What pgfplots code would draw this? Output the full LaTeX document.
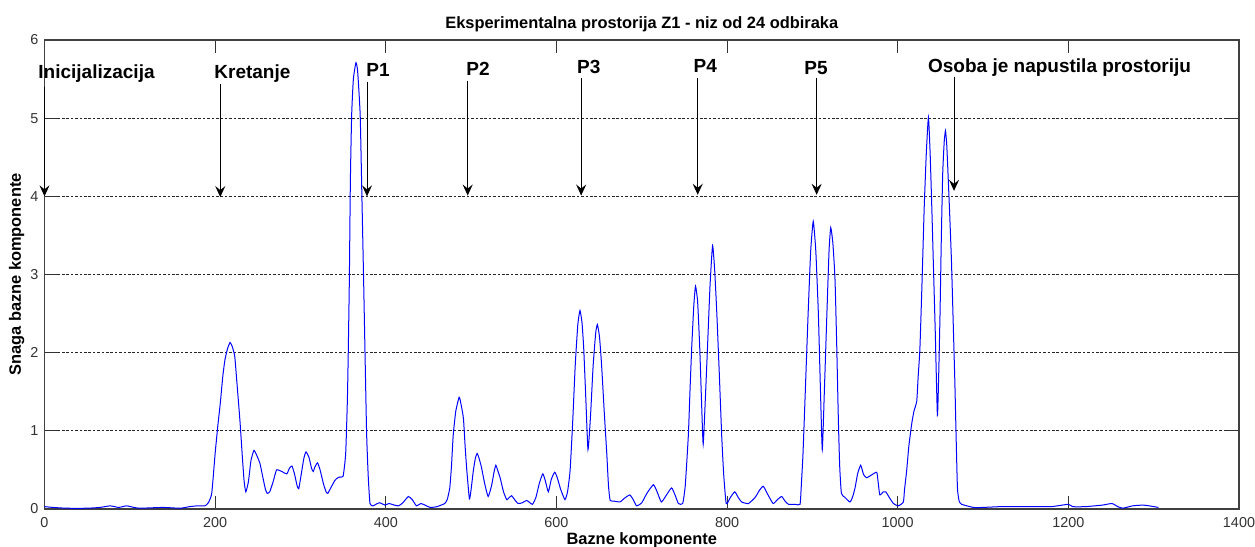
\documentclass[border=0pt]{standalone}
\usepackage{fontspec}
\setmainfont{Liberation Sans}
\usepackage{pgfplots}
\pgfplotsset{compat=1.18}
\usetikzlibrary{arrows.meta}

% event label: label x, label baseline y, text, arrow x, arrow top y, arrow tip y
\newcommand{\eventmark}[6]{%
  \node[anchor=base west, inner sep=0pt, font=\bfseries\fontsize{9.5}{11}\selectfont] at (axis cs:#1,#2) {#3};
  \draw[line width=0.5pt, -{Stealth[length=5.5pt,width=5pt,inset=2pt]}] (axis cs:#4,#5) -- (axis cs:#4,#6);
}

\begin{document}
\begin{tikzpicture}
\begin{axis}[
  at={(0,0)}, anchor=south west,
  scale only axis, width=597.25pt, height=234.5pt,
  xmin=0, xmax=1400, ymin=0, ymax=6,
  xtick={0,200,...,1400}, ytick={0,1,...,6},
  tick align=inside, major tick length=6.5pt,
  axis line style={black!75, line width=0.6pt},
  tick style={black!80, line width=0.5pt},
  ymajorgrids,
  grid style={black!85, line width=0.45pt, dash pattern=on 1.3pt off 0.9pt},
  tick label style={font=\fontsize{7.2}{8}\selectfont, text=black!80},
  /pgf/number format/assume math mode=true,
  /pgf/number format/1000 sep={},
  scaled ticks=false,
  xticklabel style={yshift=-0.5pt},
  yticklabel style={xshift=0.5pt},
  title={Eksperimentalna prostorija Z1 - niz od 24 odbiraka},
  title style={font=\bfseries\fontsize{8.2}{9}\selectfont, at={(rel axis cs:0.5,1)}, anchor=base, yshift=-0.3pt, inner sep=0pt},
  xlabel={Bazne komponente},
  xlabel style={font=\bfseries\fontsize{8.2}{9}\selectfont, at={(rel axis cs:0.5,0)}, anchor=base, yshift=-17.5pt, inner sep=0pt},
  ylabel={Snaga bazne komponente},
  ylabel style={font=\bfseries\fontsize{8.2}{9}\selectfont, at={(rel axis cs:0,0.5)}, anchor=base, yshift=11.75pt, inner sep=0pt},
  clip=false,
]
\addplot[blue, line width=0.5pt, smooth, tension=0.3] coordinates {
(0,0.03) (10,0.02) (26,0.01) (50,0.01) (65,0.02) (77,0.04) (87,0.02) (96,0.04)
(105,0.02) (112,0.01) (139,0.02) (159,0.01) (170,0.03) (178.5,0.04) (188,0.04)
(192,0.08) (196,0.20) (200,0.71) (203,1.05) (206,1.35) (209,1.70) (211.5,1.91)
(214.5,2.05) (217.5,2.13) (220,2.08) (223,1.95) (226,1.55) (229,1.14) (232,0.65)
(234,0.35) (236,0.22) (239,0.35) (242,0.62) (245.5,0.75) (249,0.68) (252.6,0.58)
(256,0.40) (259,0.25) (261,0.20) (264,0.22) (268,0.35) (272,0.50) (278,0.48)
(284,0.45) (287,0.52) (290,0.55) (293,0.45) (296,0.30) (298,0.26) (301,0.45)
(304,0.65) (306.5,0.73) (310,0.66) (313,0.52) (315,0.48) (317,0.54) (320,0.59)
(323,0.50) (327,0.32) (330,0.22) (332,0.20) (336,0.28) (340,0.36) (342.5,0.39)
(346,0.41) (350,0.42) (353,0.71) (355,1.40) (356,1.99) (357.3,2.94) (358.5,4.2)
(360,5.04) (362,5.50) (365,5.71) (367,5.60) (370,5.04) (372,4.0) (374,2.94)
(376,1.80) (377.6,0.94) (379.5,0.40) (381.5,0.07) (385,0.04) (390,0.07) (393,0.08)
(397,0.06) (399,0.05) (404,0.07) (410,0.05) (415,0.04) (420,0.08) (426.5,0.16)
(431,0.12) (436,0.04) (441,0.07) (446,0.05) (452,0.02) (460,0.03) (469,0.07)
(472,0.12) (475,0.27) (477,0.55) (479,0.94) (482,1.25) (486,1.43) (488,1.35)
(491,1.16) (493,0.80) (495,0.49) (498,0.13) (500,0.25) (502.6,0.49) (505,0.65)
(507,0.71) (509,0.66) (512,0.54) (516,0.32) (520,0.16) (524,0.30) (527,0.48)
(529,0.56) (531,0.50) (534,0.40) (538,0.22) (541.7,0.12) (544,0.14) (547.5,0.17)
(551,0.12) (555,0.07) (560,0.08) (565,0.11) (569,0.08) (572,0.06) (576,0.15)
(580,0.33) (584,0.45) (587,0.36) (590.5,0.22) (594,0.38) (598,0.47) (601,0.40)
(605,0.25) (610,0.12) (613,0.22) (616,0.49) (619,1.10) (622,1.83) (625,2.35)
(627.6,2.54) (630,2.38) (632,2.05) (634.5,1.40) (637,0.76) (640,1.20) (643,1.83)
(646,2.25) (648,2.36) (650.5,2.20) (653,1.83) (656,1.25) (659,0.71) (661,0.30)
(663,0.11) (668,0.10) (674.5,0.09) (680,0.14) (686,0.18) (690,0.12) (694,0.04)
(700,0.08) (706,0.20) (713.6,0.31) (718,0.22) (723,0.09) (729,0.18) (735,0.27)
(739,0.18) (743,0.07) (748,0.07) (751,0.30) (754.6,0.94) (756.5,1.5) (758.5,2.05)
(761,2.60) (763,2.85) (765.5,2.65) (768,2.05) (770,1.40) (772,0.83) (774.5,1.40)
(777,2.05) (780,2.85) (783,3.37) (785.5,3.05) (788,2.50) (791,1.70) (793.7,0.94)
(796,0.45) (799,0.07) (804,0.15) (809,0.22) (813,0.15) (817,0.09) (825,0.07)
(833,0.15) (838,0.24) (842.5,0.29) (848,0.18) (854,0.07) (859,0.12) (864,0.16)
(868,0.10) (872,0.06) (880,0.06) (885.5,0.06) (887,0.30) (889,0.71) (892,1.60)
(895,2.50) (898,3.30) (901,3.68) (904,3.30) (907,2.50) (909.5,1.50) (911.6,0.76)
(914,1.50) (917,2.50) (919.5,3.30) (921.5,3.60) (924,3.40) (926.5,2.94) (928.5,2.10)
(930.4,1.16) (932,0.55) (934,0.20) (938,0.15) (944,0.09) (947,0.15) (950,0.27)
(953,0.45) (956.6,0.56) (960,0.44) (963.6,0.40) (970,0.44) (975.4,0.47) (977,0.35)
(979,0.18) (983,0.22) (986,0.22) (990,0.15) (995,0.07) (1000.7,0.04) (1006.6,0.09)
(1008,0.25) (1010.5,0.49) (1013,0.80) (1016.4,1.09) (1019,1.25) (1022.3,1.38)
(1024,1.70) (1026,2.05) (1028.5,2.9) (1031,3.84) (1033.5,4.55) (1036,5.01)
(1038,4.55) (1040,3.84) (1042,3.05) (1044,2.27) (1046.5,1.20) (1048,1.70)
(1049.6,2.50) (1051,3.40) (1052.7,4.28) (1054.5,4.70) (1056,4.84) (1057.5,4.65)
(1059,4.28) (1061,3.75) (1063,3.17) (1065,2.40) (1067,1.61) (1068.5,0.90)
(1070,0.27) (1072,0.10) (1075,0.06) (1088.6,0.02) (1100,0.02) (1120,0.03)
(1140,0.03) (1160,0.03) (1180,0.03) (1200,0.06) (1205,0.03) (1220,0.03)
(1240,0.05) (1251,0.07) (1258,0.03) (1264,0.01) (1275,0.04) (1287,0.05)
(1295,0.04) (1305.6,0.02)
};
\eventmark{-7.6}{5.505}{Inicijalizacija}{0}{5.40}{4.0}
\eventmark{198.7}{5.51}{Kretanje}{206}{5.44}{3.99}
\eventmark{376.8}{5.53}{P1}{378}{5.46}{4.0}
\eventmark{494}{5.55}{P2}{496}{5.48}{4.01}
\eventmark{623.8}{5.57}{P3}{629}{5.51}{4.01}
\eventmark{760.4}{5.58}{P4}{765.6}{5.51}{4.02}
\eventmark{890.2}{5.56}{P5}{905}{5.51}{4.02}
\eventmark{1035.2}{5.59}{Osoba je napustila prostoriju}{1066}{5.53}{4.07}
\end{axis}
\pgfresetboundingbox
\path[use as bounding box] (-22.25pt,-19pt) rectangle (605.25pt,254.5pt);
\end{tikzpicture}
\end{document}
